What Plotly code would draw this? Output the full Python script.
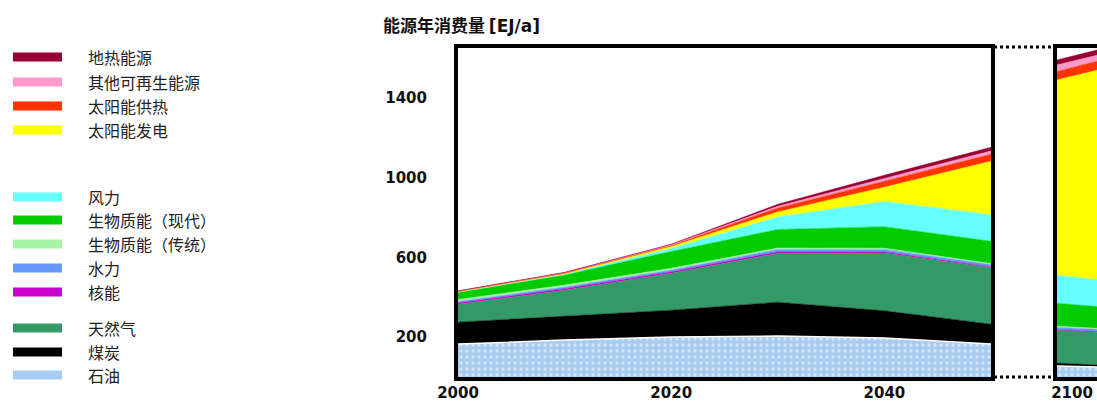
import plotly.graph_objects as go

W, H = 1097, 402

years = [2000, 2010, 2020, 2030, 2040, 2050]
years_2100 = [2100, 2104]

# stacking order, bottom to top
names = ["石油", "煤炭", "天然气", "核能", "水力", "生物质能（传统）",
         "生物质能（现代）", "风力", "太阳能发电", "太阳能供热",
         "其他可再生能源", "地热能源"]
colors = ["#a8cbf2", "#000000", "#339966", "#cc00cc", "#6699ff", "#a6f5a6",
          "#00cc00", "#66ffff", "#ffff00", "#ff3300", "#ff99cc", "#990033"]

oil = [165, 185, 200, 205, 195, 165]
coal = [110, 120, 135, 170, 137, 100]
gas = [90, 130, 185, 245, 290, 283]
nuclear = [7, 8, 8, 8, 6, 4]
hydro = [7, 8, 8, 12, 12, 12]
bio_trad = [10, 10, 9, 7, 6, 5]
bio_modern = [35, 50, 85, 93, 108, 112]
wind = [2, 4, 15, 63, 126, 133]
solar_pv = [1, 3, 10, 25, 72, 268]
solar_heat = [2, 3, 5, 20, 30, 35]
other_re = [1, 2, 3, 8, 14, 17]
geothermal = [2, 2, 3, 10, 16, 18]

oil_2100 = [55, 50]
coal_2100 = [15, 10]
gas_2100 = [165, 165]
nuclear_2100 = [3, 3]
hydro_2100 = [12, 12]
bio_trad_2100 = [5, 4]
bio_modern_2100 = [115, 110]
wind_2100 = [140, 135]
solar_pv_2100 = [980, 1050]
solar_heat_2100 = [42, 45]
other_re_2100 = [33, 30]
geothermal_2100 = [25, 26]

series = [oil, coal, gas, nuclear, hydro, bio_trad, bio_modern, wind,
          solar_pv, solar_heat, other_re, geothermal]
series_2100 = [oil_2100, coal_2100, gas_2100, nuclear_2100, hydro_2100,
               bio_trad_2100, bio_modern_2100, wind_2100, solar_pv_2100,
               solar_heat_2100, other_re_2100, geothermal_2100]

# legend rows (pixel y), listed top to bottom
legend_rows = [57, 82, 106, 130, 197, 220, 244, 268, 292, 328, 352, 375]


def px(x):
    return x / W


def py(y):
    return 1 - y / H


fig = go.Figure()
for name, color, vals, vals2 in zip(names, colors, series, series_2100):
    extra = {}
    if name == "石油":
        extra["fillpattern"] = dict(shape=".", fgcolor="white", bgcolor=color,
                                    size=6, solidity=0.25)
        line = dict(width=1.5, color="white")
    else:
        line = dict(width=0.5, color=color)
    fig.add_trace(go.Scatter(x=years, y=vals, name=name, stackgroup="a",
                             mode="lines", line=line, fillcolor=color,
                             showlegend=False, xaxis="x", yaxis="y", **extra))
    fig.add_trace(go.Scatter(x=years_2100, y=vals2, name=name, stackgroup="b",
                             mode="lines", line=line, fillcolor=color,
                             showlegend=False, xaxis="x2", yaxis="y2", **extra))

# hand-drawn legend on the left
shapes = []
annotations = []
for name, color, yrow in zip(names[::-1], colors[::-1], legend_rows):
    shapes.append(dict(type="line", xref="paper", yref="paper",
                       x0=px(13), x1=px(62), y0=py(yrow), y1=py(yrow),
                       line=dict(color=color, width=9)))
    annotations.append(dict(text=name, xref="paper", yref="paper",
                            x=px(86), y=py(yrow), xanchor="left", yanchor="middle",
                            showarrow=False,
                            font=dict(size=16, color="#222", family="Noto Sans CJK SC")))

# dotted connectors between the two panels
for yline in (47, 377):
    shapes.append(dict(type="line", xref="paper", yref="paper",
                       x0=px(994), x1=px(1053), y0=py(yline), y1=py(yline),
                       line=dict(color="black", width=3, dash="dot")))

annotations.append(dict(
    text="能源年消费量 <span style='font-family:DejaVu Sans'>[EJ/a]</span>",
    xref="paper", yref="paper", x=px(381), y=py(25), xanchor="left",
    yanchor="middle", showarrow=False,
    font=dict(size=17, color="#111", family="Noto Sans CJK SC", weight="bold")))

tick_font = dict(family="DejaVu Sans", size=15, color="#111", weight="bold")
ydom = [py(377), py(48)]

fig.update_layout(
    width=W, height=H,
    margin=dict(l=0, r=0, t=0, b=0),
    paper_bgcolor="white", plot_bgcolor="white",
    shapes=shapes, annotations=annotations,
    xaxis=dict(domain=[px(458), px(991)], range=[2000, 2050],
               tickvals=[2000, 2020, 2040], ticks="", showgrid=False,
               zeroline=False, showline=True, mirror=True, linewidth=4,
               linecolor="black", tickfont=tick_font, ticklabelstandoff=-1,
               automargin=False),
    yaxis=dict(domain=ydom, range=[0, 1650], tickvals=[200, 600, 1000, 1400],
               ticks="", showgrid=False, zeroline=False, showline=True,
               mirror=True, linewidth=4, linecolor="black", tickfont=tick_font,
               ticklabelstandoff=24, automargin=False),
    xaxis2=dict(domain=[px(1057), 1], range=[2100, 2104], tickvals=[2100],
                ticks="", showgrid=False, zeroline=False, showline=True,
                mirror=True, linewidth=4, linecolor="black", tickfont=tick_font,
                ticklabelstandoff=-1, ticklabelshift=15, anchor="y2",
                ticklabeloverflow="allow", automargin=False),
    yaxis2=dict(domain=ydom, range=[0, 1650], showticklabels=False, ticks="",
                showgrid=False, zeroline=False, showline=True, mirror=False,
                linewidth=4, linecolor="black", anchor="x2", automargin=False),
)

fig.write_html("out.html", config={"displayModeBar": False},
               post_script="document.body.style.margin='0';")
